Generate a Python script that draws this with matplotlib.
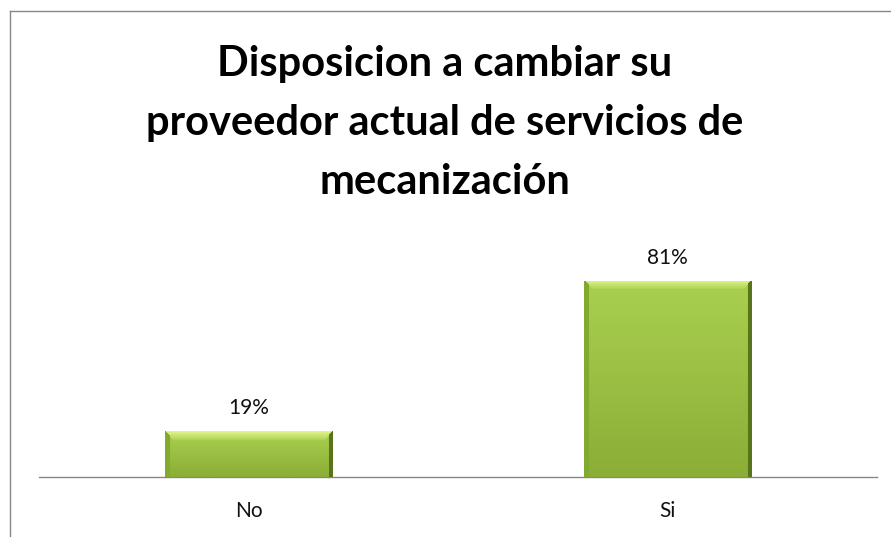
import numpy as np
import matplotlib
matplotlib.use("Agg")
import matplotlib.pyplot as plt
from matplotlib.lines import Line2D

categories = ["No", "Si"]
values = [19, 81]
value_labels = ["19%", "81%"]
title_lines = ["Disposicion a cambiar su",
               "proveedor actual de servicios de",
               "mecanización"]

W, H = 891, 537
fig = plt.figure(figsize=(W / 100, H / 100), dpi=100)
fig.patch.set_facecolor("white")

# plot area in pixel terms
left, right, bottom, top = 39, 877, 477, 235
ax = fig.add_axes([left / W, 1 - bottom / H, (right - left) / W, (bottom - top) / H])
ax.set_xlim(-0.5, 1.5)
ax.set_ylim(0, 100)

bars = ax.bar(range(len(categories)), values, width=0.40, color="#9cc43c", zorder=2)


def bevel_image(wp, hp):
    """RGB image (top row first) imitating the Excel bevel fill."""
    ny, nx = max(int(hp), 2), max(int(wp), 2)
    t = np.linspace(0, 1, ny)[:, None, None]          # 0 at top, 1 at bottom
    top_c = np.array([170, 208, 80]) / 255
    bot_c = np.array([138, 174, 54]) / 255
    img = np.broadcast_to(top_c * (1 - t) + bot_c * t, (ny, nx, 3)).copy()
    r = np.arange(ny)[:, None]
    c = np.arange(nx)[None, :]
    bev = 9
    hi = np.array([224, 244, 138]) / 255
    # top bevel with mitred corners
    mask = (r < bev) & (c >= r) & (c < nx - r)
    k = (r / bev)[..., None]
    hi_img = hi * (1 - k) + top_c * k
    img = np.where(mask[..., None], hi_img, img)
    # side bevels
    lmask = (c < 5) & (r >= c)
    img = np.where(lmask[..., None], np.array([130, 170, 46]) / 255, img)
    rmask = (c >= nx - 4) & (r >= (nx - 1 - c))
    img = np.where(rmask[..., None], np.array([88, 116, 28]) / 255, img)
    return img


for b in bars:
    x0, y0 = b.get_x(), b.get_y()
    w, h = b.get_width(), b.get_height()
    wp = w / 2 * (right - left)
    hp = h / 100 * (bottom - top)
    im = ax.imshow(bevel_image(wp, hp), origin="upper",
                   extent=[x0, x0 + w, y0, y0 + h], aspect="auto", zorder=3,
                   interpolation="bilinear")
    im.set_clip_path(b)
    b.set_facecolor("none")

for i, (v, lab) in enumerate(zip(values, value_labels)):
    ax.annotate(lab, (i, v), textcoords="offset points", xytext=(0, 12),
                ha="center", va="baseline", fontsize=15, family="Lato", color="#111111")

ax.set_xticks(range(len(categories)))
ax.set_xticklabels(categories, fontsize=15, family="Lato", color="#111111")
ax.tick_params(axis="x", length=0, pad=17)
ax.set_yticks([])
for s in ("left", "right", "top"):
    ax.spines[s].set_visible(False)
ax.spines["bottom"].set_color("#868686")
ax.spines["bottom"].set_linewidth(1.0)
ax.set_xlim(-0.5, 1.5)

# title: three centred lines, baselines 59 px apart
for j, line in enumerate(title_lines):
    fig.text(445 / W, 1 - (76 + 59 * j) / H, line, ha="center", va="baseline",
             fontsize=30, fontweight="bold", family="Lato", color="black")

# chart frame (left and top edges visible in the crop)
fig.add_artist(Line2D([9.5 / W, 9.5 / W], [0, 1 - 11 / H], color="#888888", lw=1.0))
fig.add_artist(Line2D([9.5 / W, 1], [1 - 11 / H, 1 - 11 / H], color="#888888", lw=1.0))

fig.savefig("out.png", dpi=100, facecolor="white")
